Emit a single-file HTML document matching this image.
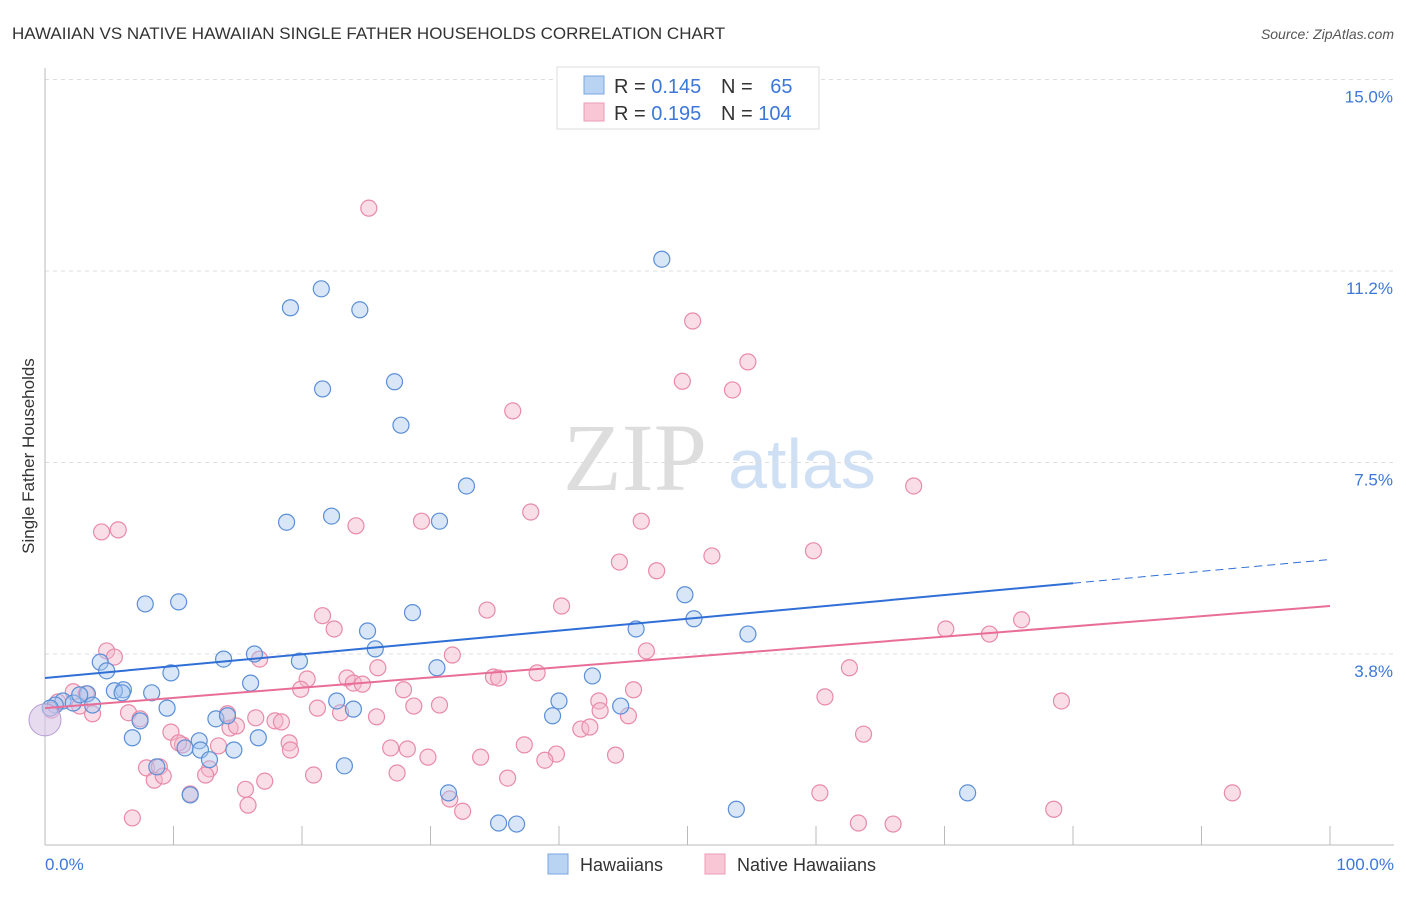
<!DOCTYPE html>
<html><head><meta charset="utf-8"><style>
body{margin:0;background:#fff;font-family:"Liberation Sans",sans-serif;}
</style></head><body>
<svg width="1406" height="892" xmlns="http://www.w3.org/2000/svg" style="font-family:'Liberation Sans',sans-serif">
<text x="12" y="39" font-size="17" fill="#333">HAWAIIAN VS NATIVE HAWAIIAN SINGLE FATHER HOUSEHOLDS CORRELATION CHART</text>
<text x="1394" y="39" font-size="14" fill="#555" font-style="italic" text-anchor="end">Source: ZipAtlas.com</text>
<g>
<text x="635" y="490" font-size="96" fill="#ddd" font-family="'Liberation Serif',serif" text-anchor="middle">ZIP</text>
<text x="802" y="488" font-size="70" fill="#cfe0f5" text-anchor="middle">atlas</text>
</g>
<g id="grid"></g>
<g id="axes"></g>
<g id="marks"></g>
<text transform="translate(34,456) rotate(-90)" font-size="17" fill="#333" text-anchor="middle">Single Father Households</text>
<text x="45" y="870" font-size="17" fill="#3b78d8">0.0%</text>
<text x="1394" y="870" font-size="17" fill="#3b78d8" text-anchor="end">100.0%</text>
<g>
<rect x="557" y="67" width="262" height="62" fill="#fff" stroke="#ddd"/>
<rect x="584" y="76" width="20" height="18" fill="#b9d3f3" stroke="#7aa6e0"/>
<rect x="584" y="103" width="20" height="18" fill="#f9c6d6" stroke="#ec9cb5"/>
<text x="614" y="93" font-size="20" fill="#333">R = <tspan fill="#3b78d8">0.145</tspan></text>
<text x="721" y="93" font-size="20" fill="#333">N = <tspan fill="#3b78d8" dx="12">65</tspan></text>
<text x="614" y="120" font-size="20" fill="#333">R = <tspan fill="#3b78d8">0.195</tspan></text>
<text x="721" y="120" font-size="20" fill="#333">N = <tspan fill="#3b78d8">104</tspan></text>
</g>
<g>
<rect x="548" y="854" width="20" height="20" fill="#b9d3f3" stroke="#7aa6e0"/>
<text x="580" y="871" font-size="18" fill="#333">Hawaiians</text>
<rect x="705" y="854" width="20" height="20" fill="#f9c6d6" stroke="#ec9cb5"/>
<text x="737" y="871" font-size="18" fill="#333">Native Hawaiians</text>
</g>
</svg>
<script>
const yTicks=[3.75,7.5,11.25,15];
const yTickLabels=["3.8%","7.5%","11.2%","15.0%"];
const xTicks=[0,10,20,30,40,50,60,70,80,90,100];
const blueX=[19.1,21.5,24.5,48.0,21.6,27.2,27.7,32.8,18.8,22.3,30.7,7.8,10.4,28.6,49.8,50.5,54.7,46.0,25.1,25.7,16.3,19.8,13.9,4.3,4.8,9.8,30.5,42.6,16.0,6.1,5.4,8.3,6.0,3.3,1.4,0.8,2.2,3.7,9.5,22.7,24.0,40.0,44.8,39.5,13.3,14.2,7.4,6.8,16.6,12.0,10.9,12.1,14.7,12.8,8.7,23.3,11.3,31.4,35.3,36.7,53.8,71.8,0.4,2.7];
const blueY=[10.53,10.90,10.49,11.48,8.94,9.08,8.23,7.04,6.33,6.45,6.35,4.73,4.77,4.56,4.91,4.44,4.14,4.24,4.20,3.85,3.75,3.61,3.65,3.59,3.42,3.38,3.48,3.32,3.18,3.05,3.03,2.99,2.99,2.97,2.83,2.75,2.79,2.75,2.69,2.83,2.67,2.83,2.73,2.54,2.48,2.54,2.44,2.11,2.11,2.05,1.91,1.87,1.87,1.68,1.54,1.56,0.99,1.03,0.44,0.42,0.71,1.03,2.69,2.95];
const pinkX=[25.2,50.4,54.7,49.6,53.5,36.4,67.6,4.4,5.7,24.2,29.3,37.8,46.4,51.9,44.7,59.8,47.6,40.2,34.4,21.6,22.5,70.1,73.5,76.0,4.8,5.4,16.7,25.9,31.7,46.8,62.6,20.4,23.5,24.0,24.7,34.9,35.3,38.3,19.9,27.9,45.8,60.7,79.1,2.2,3.2,1.0,0.5,2.7,3.7,6.5,7.4,21.2,23.0,28.7,30.7,43.1,43.2,45.4,14.2,16.4,17.9,18.4,25.8,14.4,14.9,41.7,42.4,9.8,10.7,10.4,13.5,19.0,19.1,63.7,26.9,28.2,37.3,29.8,33.9,44.4,39.8,38.9,7.9,8.9,8.5,12.8,9.2,12.5,20.9,17.1,27.4,36.0,15.6,11.3,31.5,32.5,60.3,92.4,15.8,6.8,63.3,66.0,78.5];
const pinkY=[12.48,10.27,9.47,9.09,8.92,8.51,7.04,6.14,6.18,6.26,6.35,6.53,6.35,5.67,5.55,5.77,5.38,4.69,4.61,4.50,4.24,4.24,4.14,4.42,3.81,3.69,3.65,3.48,3.73,3.81,3.48,3.26,3.28,3.18,3.16,3.30,3.28,3.38,3.06,3.05,3.05,2.91,2.83,3.01,2.97,2.81,2.65,2.73,2.58,2.60,2.48,2.69,2.60,2.73,2.75,2.83,2.64,2.54,2.58,2.50,2.44,2.42,2.52,2.30,2.34,2.28,2.32,2.22,1.97,2.01,1.95,2.01,1.87,2.18,1.91,1.89,1.97,1.73,1.73,1.77,1.79,1.67,1.52,1.54,1.28,1.50,1.36,1.38,1.38,1.26,1.42,1.32,1.10,1.01,0.91,0.67,1.03,1.03,0.79,0.54,0.44,0.42,0.71];
const blueTrend=[3.28,5.6];
const pinkTrend=[2.69,4.69];
const blueSolidEnd=80;
const NS="http://www.w3.org/2000/svg";
function sx(v){return 45+v*12.85;}
function sy(v){return 845.5-v*51.07;}
function mk(tag,attrs,parent){const e=document.createElementNS(NS,tag);for(const k in attrs)e.setAttribute(k,attrs[k]);parent.appendChild(e);return e;}
const grid=document.getElementById('grid'),axes=document.getElementById('axes'),marks=document.getElementById('marks');
yTicks.forEach((t,i)=>{
 const l=mk('line',{x1:45,x2:1394,y1:sy(t),y2:sy(t),stroke:'#ddd','stroke-dasharray':'4,4'},grid);
 
 
 const tx=mk('text',{x:1393,y:sy(t)+23,'font-size':17,fill:'#3b78d8','text-anchor':'end'},grid);
 tx.textContent=yTickLabels[i];
 
 
});
const ax=mk('line',{x1:45,x2:45,y1:68,y2:845,stroke:'#bbb'},axes);


const bx=mk('line',{x1:45,x2:1394,y1:845,y2:845,stroke:'#bbb'},axes);


xTicks.forEach(t=>{
 const l=mk('line',{x1:sx(t),x2:sx(t),y1:826,y2:845,stroke:'#bbb'},axes);
 
 
});
function pts(xs,ys,fill,stroke,name){
 xs.forEach((x,i)=>{
  const c=mk('circle',{cx:sx(x),cy:sy(ys[i]),r:8,fill:fill,'fill-opacity':0.45,stroke:stroke,'stroke-width':1.2},marks);
  
  
 });
}
pts(pinkX,pinkY,'#f5b6c9','#e88aa8','native-hawaiian-point');
pts(blueX,blueY,'#a8c8f0','#5b8fd6','hawaiian-point');
const big=mk('circle',{cx:sx(0),cy:sy(2.46),r:16,fill:'#d7c3e6','fill-opacity':0.6,stroke:'#b39ad3'},marks);


function ty(tr,x){return tr[0]+(tr[1]-tr[0])*x/100;}
const b1=mk('line',{x1:sx(0),y1:sy(ty(blueTrend,0)),x2:sx(blueSolidEnd),y2:sy(ty(blueTrend,blueSolidEnd)),stroke:'#2f6fd6','stroke-width':2},marks);


const b2=mk('line',{x1:sx(blueSolidEnd),y1:sy(ty(blueTrend,blueSolidEnd)),x2:sx(100),y2:sy(ty(blueTrend,100)),stroke:'#2f6fd6','stroke-width':1,'stroke-dasharray':'8,5'},marks);


const p1=mk('line',{x1:sx(0),y1:sy(ty(pinkTrend,0)),x2:sx(100),y2:sy(ty(pinkTrend,100)),stroke:'#e86e98','stroke-width':2},marks);


</script>
</body></html>
